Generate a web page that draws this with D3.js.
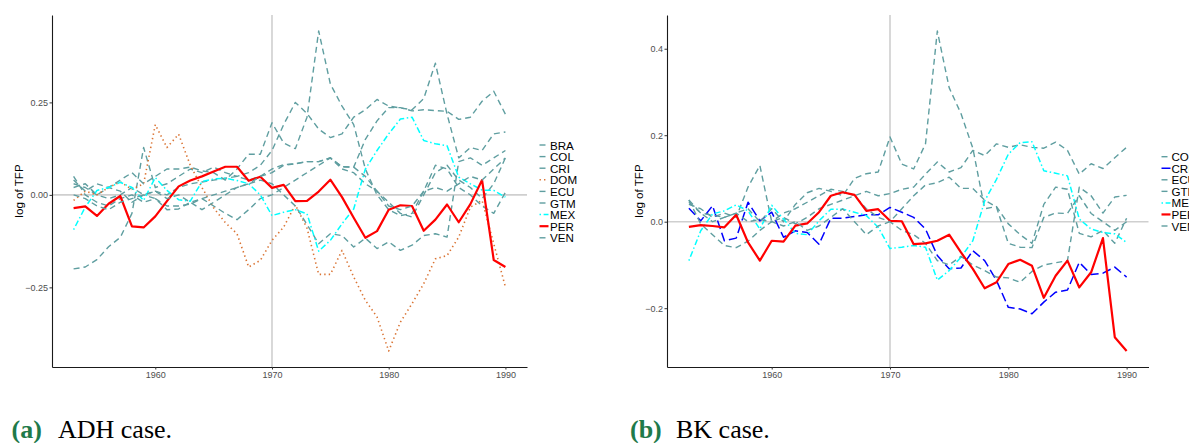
<!DOCTYPE html>
<html><head><meta charset="utf-8">
<script src="https://cdn.jsdelivr.net/npm/d3@7"></script>
<style>body{margin:0;background:#fff}</style>
</head><body><svg id="c" width="1189" height="443"></svg>
<script>
// ---------- DATA ----------
const years = [1953,1954,1955,1956,1957,1958,1959,1960,1961,1962,1963,1964,1965,1966,1967,1968,1969,1970,1971,1972,1973,1974,1975,1976,1977,1978,1979,1980,1981,1982,1983,1984,1985,1986,1987,1988,1989,1990];

const adhCountries = ["BRA","COL","CRI","DOM","ECU","GTM","MEX","PER","VEN"];
const bkCountries  = ["COL","CRI","ECU","GTM","MEX","PER","VEN"];

// (a) ADH case
const adhBRA = [-0.20,-0.195,-0.175,-0.14,-0.115,-0.05,0.128,0.02,0.03,0.05,0.07,0.06,0.075,0.06,0.05,0.06,0.08,0.12,0.19,0.25,0.22,0.178,0.155,0.165,0.21,0.23,0.258,0.24,0.235,0.23,0.26,0.356,0.218,0.10,0.128,0.12,0.165,0.17];
const adhCOL = [0.03,0.02,0.0,-0.01,0.0,0.02,0.0,0.01,0.0,0.02,0.03,0.035,0.04,0.045,0.05,0.04,0.05,0.07,0.082,0.084,0.09,0.09,0.1,0.076,0.075,0.15,0.2,0.236,0.236,0.227,0.23,0.228,0.226,0.204,0.21,0.253,0.28,0.218];
const adhCRI = [0.02,0.03,0.0,0.02,0.01,-0.02,0.0,-0.01,-0.04,-0.038,-0.02,-0.01,-0.03,-0.05,-0.067,-0.04,-0.01,0.0,0.02,0.04,0.06,0.08,0.1,0.07,0.06,0.03,0.01,-0.02,-0.05,-0.06,0.0,0.06,0.08,0.04,0.02,-0.01,0.03,0.1];
const adhDOM = [-0.015,0.01,0.0,0.02,0.035,0.015,0.03,0.19,0.128,0.164,0.08,0.02,-0.035,-0.075,-0.105,-0.195,-0.177,-0.123,-0.087,-0.027,-0.09,-0.215,-0.215,-0.15,-0.222,-0.285,-0.33,-0.422,-0.344,-0.294,-0.24,-0.173,-0.164,-0.114,-0.033,-0.015,-0.132,-0.249];
const adhECU = [0.04,0.01,0.03,0.02,0.04,0.06,0.03,0.05,0.07,0.07,0.075,0.065,0.06,0.04,0.07,0.11,0.11,0.195,0.14,0.125,0.21,0.443,0.30,0.24,0.19,0.07,0.0,-0.04,-0.056,-0.05,0.01,0.08,0.07,0.02,0.0,-0.03,-0.05,0.007];
const adhGTM = [0.05,0.0,-0.02,-0.03,-0.01,0.0,-0.02,-0.01,-0.03,-0.03,-0.025,-0.01,0.0,0.01,0.02,0.03,0.04,0.03,0.0,-0.03,-0.08,-0.132,-0.105,-0.11,-0.141,-0.117,-0.145,-0.127,-0.15,-0.136,-0.11,-0.105,-0.114,0.09,0.1,0.08,0.1,0.12];
const adhMEX = [-0.094,-0.033,0.012,0.02,0.034,0.02,-0.015,0.047,0.012,-0.013,-0.017,0.036,0.043,0.045,0.039,0.03,0.0,-0.056,-0.047,-0.04,-0.051,-0.152,-0.123,-0.078,-0.038,0.07,0.12,0.165,0.205,0.21,0.147,0.138,0.133,0.048,0.03,0.013,0.012,-0.006];
const adhPER = [-0.036,-0.031,-0.057,-0.024,-0.003,-0.085,-0.088,-0.058,-0.017,0.023,0.039,0.050,0.063,0.076,0.076,0.038,0.049,0.019,0.027,-0.017,-0.016,0.009,0.041,-0.006,-0.062,-0.116,-0.098,-0.040,-0.028,-0.030,-0.097,-0.067,-0.026,-0.074,-0.025,0.040,-0.176,-0.195];
const adhVEN = [0.0,-0.01,-0.03,-0.04,-0.02,-0.01,0.0,0.01,-0.01,0.0,-0.02,-0.04,-0.02,0.0,0.02,0.03,0.05,0.06,0.08,0.084,0.09,0.09,0.1,0.076,0.075,0.05,0.01,-0.03,-0.04,-0.03,0.01,0.02,0.01,0.03,0.05,0.04,0.07,0.10];

// (b) BK case
const bkCOL = [0.04,0.03,0.01,0.02,0.01,0.08,0.13,0.0,0.01,-0.005,0.01,0.03,0.04,0.05,0.06,0.07,0.06,0.065,0.075,0.08,0.11,0.138,0.115,0.125,0.165,0.153,0.18,0.172,0.178,0.172,0.17,0.184,0.165,0.11,0.134,0.123,0.148,0.172];
const bkCRI = [0.031,0.002,0.037,-0.044,-0.038,0.045,0.002,0.022,-0.036,-0.021,-0.025,-0.052,0.008,0.008,0.012,0.016,0.016,0.033,0.022,0.010,-0.017,-0.078,-0.109,-0.107,-0.067,-0.090,-0.136,-0.198,-0.202,-0.213,-0.186,-0.163,-0.158,-0.094,-0.122,-0.119,-0.105,-0.128];
const bkECU = [0.05,0.02,0.0,0.01,0.02,0.03,0.0,0.03,0.0,0.04,0.067,0.077,0.07,0.06,0.1,0.111,0.115,0.196,0.133,0.122,0.18,0.441,0.31,0.25,0.17,0.03,0.035,-0.005,-0.03,-0.05,0.04,0.08,0.075,-0.027,-0.035,-0.02,-0.05,0.008];
const bkGTM = [0.05,-0.005,-0.03,-0.055,-0.06,-0.045,-0.02,0.0,0.02,0.03,0.045,0.06,0.075,0.07,0.06,0.03,0.01,0.0,-0.02,-0.03,-0.05,-0.09,-0.1,-0.08,-0.1,-0.113,-0.128,-0.13,-0.14,-0.115,-0.1,-0.095,-0.09,0.08,0.06,0.02,0.057,0.061];
const bkMEX = [-0.09,-0.021,0.018,0.025,0.039,0.025,-0.017,0.038,0.006,-0.027,-0.030,0.002,0.029,0.029,0.022,0.014,-0.013,-0.062,-0.059,-0.055,-0.059,-0.135,-0.113,-0.082,-0.044,0.048,0.098,0.156,0.183,0.185,0.118,0.112,0.106,0.006,-0.017,-0.025,-0.028,-0.048];
const bkPER = [-0.012,-0.008,-0.010,-0.013,0.016,-0.048,-0.090,-0.044,-0.046,-0.009,-0.004,0.022,0.060,0.068,0.062,0.025,0.029,0.002,0.001,-0.052,-0.050,-0.044,-0.030,-0.071,-0.109,-0.154,-0.140,-0.098,-0.088,-0.102,-0.176,-0.125,-0.090,-0.152,-0.117,-0.038,-0.267,-0.299];
const bkVEN = [0.045,0.02,0.015,0.01,0.02,0.0,0.005,0.0,-0.01,0.0,-0.02,-0.01,0.01,0.03,0.0,-0.03,-0.01,0.0,0.03,0.06,0.085,0.09,0.103,0.077,0.077,0.05,0.034,-0.05,-0.059,-0.06,0.01,0.02,0.019,0.06,0.019,0.0,-0.02,0.0];

const xTicks = [1960,1970,1980,1990];
const adhYTicks = [-0.25,0,0.25];
const bkYTicks = [-0.2,0,0.2,0.4];
const refYear = 1970;
const yTitle = "log of TFP";
const captions = [["(a)","ADH case."],["(b)","BK case."]];

// ---------- STYLES ----------
const teal = {color:"#5F9EA0", dash:"6,4", width:1.4};
const styleADH = {BRA:teal, COL:teal, CRI:teal, DOM:{color:"#DA7434",dash:"1.4,3.1",width:1.6},
  ECU:teal, GTM:teal, MEX:{color:"#00FFFF",dash:"1.5,2.6,6,2.6",width:1.5},
  PER:{color:"#FF0000",dash:null,width:2.2}, VEN:teal};
const styleBK = {COL:teal, CRI:{color:"#0000FF",dash:"9,4",width:1.5}, ECU:teal, GTM:teal,
  MEX:{color:"#00FFFF",dash:"1.5,2.6,6,2.6",width:1.5}, PER:{color:"#FF0000",dash:null,width:2.2}, VEN:teal};

const adhSeries = {BRA:adhBRA,COL:adhCOL,CRI:adhCRI,DOM:adhDOM,ECU:adhECU,GTM:adhGTM,MEX:adhMEX,PER:adhPER,VEN:adhVEN};
const bkSeries = {COL:bkCOL,CRI:bkCRI,ECU:bkECU,GTM:bkGTM,MEX:bkMEX,PER:bkPER,VEN:bkVEN};

const svg = d3.select("#c");
const SANS = "'Liberation Sans', Arial, Helvetica, sans-serif";

function panel(cfg){
  const {names, series, styles, left, right, top, bottom, yTicks, fmt, keyX, labelX, legY0, legStep, titleX} = cfg;
  const g = svg.append("g");
  const xExt = d3.extent(years), xPad = (xExt[1]-xExt[0])*0.05;
  const x = d3.scaleLinear().domain([xExt[0]-xPad, xExt[1]+xPad]).range([left,right]);
  const all = names.flatMap(n=>series[n]);
  const yExt = d3.extent(all), yPad = (yExt[1]-yExt[0])*0.05;
  const y = d3.scaleLinear().domain([yExt[0]-yPad, yExt[1]+yPad]).range([bottom,top]);

  // reference lines
  g.append("line").attr("x1",x(refYear)).attr("x2",x(refYear)).attr("y1",top).attr("y2",bottom)
    .attr("stroke","#cfcfcf").attr("stroke-width",1.6);
  g.append("line").attr("x1",left).attr("x2",right).attr("y1",y(0)).attr("y2",y(0))
    .attr("stroke","#cfcfcf").attr("stroke-width",1.6);

  // series
  const line = d3.line().x((d,i)=>x(years[i])).y(d=>y(d));
  names.forEach(n=>{
    const s = styles[n];
    g.append("path").datum(series[n]).attr("d",line).attr("fill","none")
      .attr("stroke",s.color).attr("stroke-width",s.width)
      .attr("stroke-dasharray",s.dash).attr("stroke-linejoin","round");
  });

  // axes
  const ax = g.append("g").attr("transform",`translate(0,${bottom})`)
    .call(d3.axisBottom(x).tickValues(xTicks).tickFormat(d3.format("d")).tickSize(2.5).tickSizeOuter(0).tickPadding(2));
  const ay = g.append("g").attr("transform",`translate(${left},0)`)
    .call(d3.axisLeft(y).tickValues(yTicks).tickFormat(d3.format(fmt)).tickSize(2.5).tickSizeOuter(0).tickPadding(1.5));
  [ax,ay].forEach(a=>{
    a.select(".domain").attr("stroke","#1a1a1a").attr("stroke-width",1.1);
    a.selectAll(".tick line").attr("stroke","#333").attr("stroke-width",1);
    a.selectAll(".tick text").attr("fill","#4D4D4D").attr("font-size",9).attr("font-family",SANS);
  });

  // y title
  g.append("text").attr("transform",`translate(${titleX},${(top+bottom)/2}) rotate(-90)`)
    .attr("text-anchor","middle").attr("dominant-baseline","central")
    .attr("font-family",SANS).attr("font-size",11.6).attr("fill","#000").text(yTitle);

  // legend
  names.forEach((n,i)=>{
    const s = styles[n], cy = legY0 + i*legStep;
    g.append("line").attr("x1",keyX).attr("x2",keyX+9).attr("y1",cy).attr("y2",cy)
      .attr("stroke",s.color).attr("stroke-width",s.width).attr("stroke-dasharray",s.dash);
    g.append("text").attr("x",labelX).attr("y",cy).attr("dominant-baseline","central")
      .attr("font-family",SANS).attr("font-size",11.6).attr("fill","#000").text(n);
  });
}

panel({names:adhCountries, series:adhSeries, styles:styleADH, left:52, right:527, top:15, bottom:367,
  yTicks:adhYTicks, fmt:".2f", keyX:539.5, labelX:550, legY0:145, legStep:11.6, titleX:18});
panel({names:bkCountries, series:bkSeries, styles:styleBK, left:667, right:1148.5, top:15, bottom:367,
  yTicks:bkYTicks, fmt:".1f", keyX:1161.5, labelX:1171.5, legY0:156.7, legStep:11.55, titleX:638});

// captions
const capX = [[11.5,58],[630,676]];
captions.forEach((c,i)=>{
  svg.append("text").attr("x",capX[i][0]).attr("y",438).attr("font-family","'Liberation Serif', 'Times New Roman', serif")
    .attr("font-weight","bold").attr("font-size",26).attr("fill","#1f7a4a").text(c[0]);
  svg.append("text").attr("x",capX[i][1]).attr("y",438).attr("font-family","'Liberation Serif', 'Times New Roman', serif")
    .attr("font-size",26).attr("fill","#000").text(c[1]);
});
</script></body></html>
